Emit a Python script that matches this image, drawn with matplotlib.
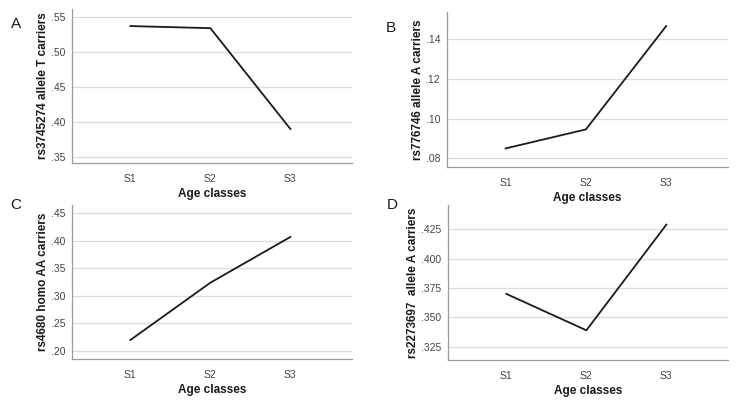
import matplotlib.pyplot as plt

plt.rcParams['font.family'] = ['Liberation Sans', 'DejaVu Sans']

classes = ['S1', 'S2', 'S3']

# values
a_vals = [0.537, 0.534, 0.390]
b_vals = [0.0849, 0.0945, 0.1467]
c_vals = [0.220, 0.324, 0.407]
d_vals = [0.370, 0.339, 0.429]

a_ticks = [0.35, 0.40, 0.45, 0.50, 0.55]
b_ticks = [0.08, 0.10, 0.12, 0.14]
c_ticks = [0.20, 0.25, 0.30, 0.35, 0.40, 0.45]
d_ticks = [0.325, 0.350, 0.375, 0.400, 0.425]

panels = [
    ('A', a_vals, a_ticks, (0.3414, 0.5614), 'rs3745274 allele T carriers', 2,
     [0.0974, 0.5935, 0.3789, 0.3841]),
    ('B', b_vals, b_ticks, (0.0755, 0.1538), 'rs776746 allele A carriers', 2,
     [0.6049, 0.5835, 0.3802, 0.3865]),
    ('C', c_vals, c_ticks, (0.1855, 0.465), 'rs4680 homo AA carriers', 2,
     [0.0974, 0.1047, 0.3789, 0.3841]),
    ('D', d_vals, d_ticks, (0.3137, 0.4457), 'rs2273697  allele A carriers', 3,
     [0.6062, 0.1022, 0.3789, 0.3866]),
]

fig = plt.figure(figsize=(7.39, 4.01), dpi=100)

for letter, vals, ticks, ylim, ylabel, ndec, rect in panels:
    ax = fig.add_axes(rect)
    x = range(1, len(classes) + 1)
    ax.plot(x, vals, color='#1a1a1a', linewidth=1.3)
    ax.set_xlim(0.27, 3.77)
    ax.set_ylim(*ylim)
    ax.set_xticks(list(x))
    ax.set_xticklabels(classes)
    ax.set_yticks(ticks)
    ax.set_yticklabels([('{:.%df}' % ndec).format(t).lstrip('0') for t in ticks])
    ax.grid(axis='y', color='#dcdcdc', linewidth=0.9)
    ax.set_axisbelow(True)
    for s in ['top', 'right']:
        ax.spines[s].set_visible(False)
    for s in ['left', 'bottom']:
        ax.spines[s].set_color('#9a9a9a')
        ax.spines[s].set_linewidth(0.9)
    ax.tick_params(length=0, labelsize=7.5, labelcolor='#444444', pad=5)
    ax.tick_params(axis='x', pad=8)
    ax.set_xlabel('Age classes', fontsize=8.5, fontweight='bold', color='#1a1a1a', labelpad=3)
    ax.set_ylabel(ylabel, fontsize=8.5, fontweight='bold', color='#1a1a1a', labelpad=1)
    ax.text(-0.2, 0.9 if letter in 'AB' else 1.0, letter, transform=ax.transAxes,
            fontsize=11, ha='center', va='center', color='#1a1a1a')

fig.savefig('out.png', dpi=100)
